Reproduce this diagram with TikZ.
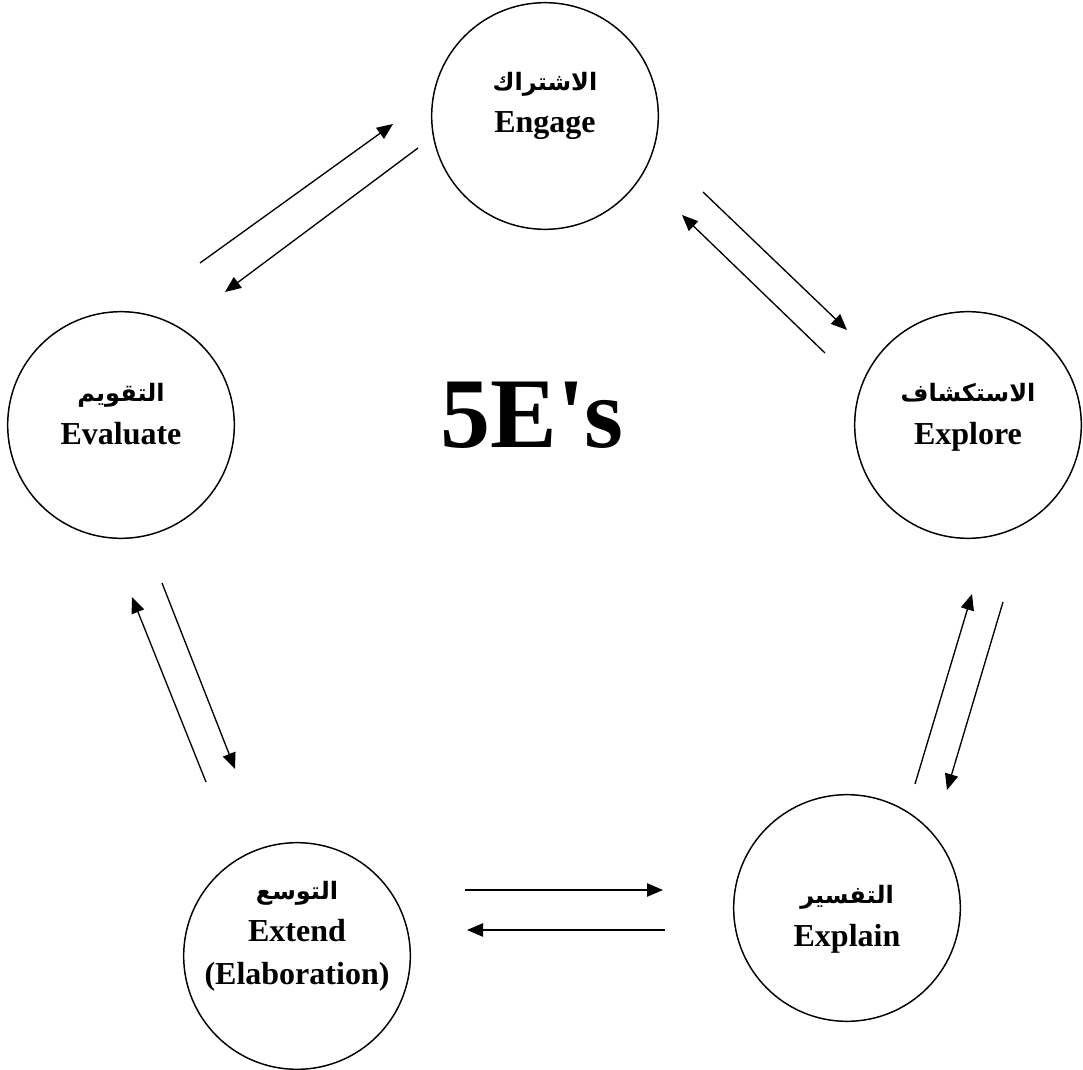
\documentclass[tikz,border=0pt]{standalone}
\usepackage{fontspec}
\setmainfont{Liberation Serif}
\newfontfamily\titlefont{Liberation Serif}[Ligatures=TeXOff]
\newfontfamily\arabicfont[Script=Arabic]{DejaVu Sans}
\TeXXeTstate=1
\usetikzlibrary{arrows.meta}

\newcommand{\ar}[1]{{\arabicfont\bfseries\fontsize{18}{30}\selectfont\beginR #1\endR}}

\begin{document}
\begin{tikzpicture}[x=0.75pt, y=-0.75pt,
  phase/.style={draw, circle, line width=1.1pt, minimum size=170pt, inner sep=0pt},
  phasetext/.style={align=center, inner sep=0pt, font=\bfseries\fontsize{24}{32}\selectfont},
  link/.style={line width=1pt, -{Triangle[length=12pt, width=10pt]}}]
  \useasboundingbox (0,0) rectangle (1083,1070);

  % the five phases
  \node[phase] (engage)   at (545,116) {};
  \node[phase] (evaluate) at (121,425) {};
  \node[phase] (explore)  at (968,425) {};
  \node[phase] (extend)   at (297,956) {};
  \node[phase] (explain)  at (847,908) {};

  \node[phasetext] (engage-text)   at (545,106) {\ar{الاشتراك}\\Engage};
  \node[phasetext] (evaluate-text) at (121,414) {\ar{التقويم}\\Evaluate};
  \node[phasetext] (explore-text)  at (968,417) {\ar{الاستكشاف}\\Explore};
  \node[phasetext] (extend-text)   at (297,936) {\ar{التوسع}\\Extend\\(Elaboration)};
  \node[phasetext] (explain-text)  at (847,919) {\ar{التفسير}\\Explain};

  \node[font=\titlefont\bfseries\fontsize{75}{80}\selectfont] (title) at (532,415) {5E's};

  % arrow ends
  \coordinate (evaluate-out) at (200,263);
  \coordinate (engage-in)    at (393,124);
  \coordinate (engage-out)   at (418,148);
  \coordinate (evaluate-in)  at (225,292);
  \coordinate (engage-out2)  at (703,192);
  \coordinate (explore-in)   at (847,330);
  \coordinate (explore-out)  at (825,353);
  \coordinate (engage-in2)   at (682,215);
  \coordinate (explain-out)  at (915,784);
  \coordinate (explore-in2)  at (972,594);
  \coordinate (explore-out2) at (1003,602);
  \coordinate (explain-in)   at (947,790);
  \coordinate (evaluate-out2) at (162,583);
  \coordinate (extend-in)    at (235,769);
  \coordinate (extend-out)   at (206,782);
  \coordinate (evaluate-in2) at (132,597);
  \coordinate (extend-out2)  at (465,890);
  \coordinate (explain-in2)  at (663,890);
  \coordinate (explain-out2) at (665,930);
  \coordinate (extend-in2)   at (467,930);

  % paired arrows between neighbours
  \draw[link] (evaluate-out) -- (engage-in);
  \draw[link] (engage-out) -- (evaluate-in);
  \draw[link] (engage-out2) -- (explore-in);
  \draw[link] (explore-out) -- (engage-in2);
  \draw[link] (explain-out) -- (explore-in2);
  \draw[link] (explore-out2) -- (explain-in);
  \draw[link] (evaluate-out2) -- (extend-in);
  \draw[link] (extend-out) -- (evaluate-in2);
  \draw[link] (extend-out2) -- (explain-in2);
  \draw[link] (explain-out2) -- (extend-in2);
\end{tikzpicture}
\end{document}
